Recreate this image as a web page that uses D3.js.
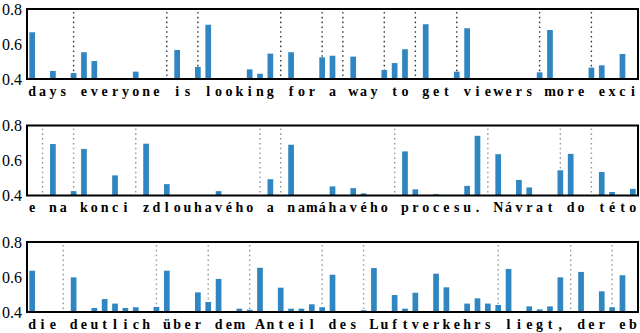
<!DOCTYPE html>
<html><head><meta charset="utf-8">
<script src="https://cdn.jsdelivr.net/npm/d3@7"></script>
<style>body{margin:0;background:#fff}svg{display:block}</style>
</head><body>
<svg id="c" width="640" height="333"></svg>
<script>
// ---- data ----
const yTicks = [0.4, 0.6, 0.8];
const text1 = "days everyone is looking for a way to get viewers more exci";
const idx1 = [0,2,4,5,6,10,14,16,17,21,22,23,25,28,29,31,34,35,36,38,41,42,49,50,54,55,57];
const val1 = [0.667,0.446,0.434,0.553,0.503,0.442,0.566,0.469,0.71,0.455,0.43,0.545,0.553,0.524,0.533,0.528,0.451,0.491,0.57,0.713,0.442,0.69,0.438,0.68,0.465,0.478,0.543];
const text2 = "e na konci zdlouhavého a namáhavého procesu. Návrat do této";
const idx2 = [2,4,5,8,11,13,18,23,25,29,31,32,36,37,39,42,43,45,47,48,51,52,55,56,58];
const val2 = [0.694,0.425,0.666,0.515,0.696,0.465,0.425,0.493,0.69,0.452,0.442,0.412,0.652,0.435,0.408,0.455,0.741,0.636,0.489,0.446,0.544,0.638,0.534,0.42,0.438];
const text3 = "die deutlich über dem Anteil des Luftverkehrs liegt, der eb";
const idx3 = [0,4,6,7,8,9,10,12,13,16,17,18,20,21,22,24,25,26,27,28,29,32,33,34,35,36,37,39,40,42,43,44,45,46,48,49,50,51,52,53,55,56,57,58];
const val3 = [0.636,0.598,0.423,0.474,0.448,0.423,0.427,0.429,0.636,0.512,0.457,0.589,0.419,0.413,0.653,0.539,0.419,0.419,0.444,0.427,0.613,0.41,0.651,0.406,0.497,0.419,0.51,0.619,0.541,0.448,0.478,0.448,0.44,0.646,0.432,0.415,0.432,0.598,0.406,0.629,0.518,0.427,0.61,0.406];

// ---- drawing ----
const FONT = '"Liberation Serif", "Times New Roman", serif';
const svg = d3.select("#c");
const left = 27, right = 638, ph = 70;
const panels = [
  {text: text1, idx: idx1, val: val1, top: 9,   dot: "#3a3a3a"},
  {text: text2, idx: idx2, val: val2, top: 125.5, dot: "#9a9a9a"},
  {text: text3, idx: idx3, val: val3, top: 242, dot: "#9a9a9a"}
];

panels.forEach(p => {
  const chars = Array.from(p.text);
  const x = d3.scaleBand().domain(d3.range(chars.length)).range([left, right])
    .paddingInner(0.45).paddingOuter(0.225);
  const y = d3.scaleLinear().domain([0.4, 0.8]).range([p.top + ph, p.top]);
  const g = svg.append("g");

  // dotted separators at spaces
  const spaces = chars.map((c, i) => c === " " ? i : -1).filter(i => i >= 0);
  g.selectAll("line.sep").data(spaces).join("line")
    .attr("x1", i => x(i) + x.bandwidth() / 2).attr("x2", i => x(i) + x.bandwidth() / 2)
    .attr("y1", y(0.8) + 3).attr("y2", y(0.4))
    .attr("stroke", p.dot).attr("stroke-width", 1.4)
    .attr("stroke-dasharray", "1.6,3.2");

  // bars
  const data = p.idx.map((k, j) => ({k, v: p.val[j]}));
  g.selectAll("rect.bar").data(data).join("rect")
    .attr("x", d => x(d.k)).attr("width", x.bandwidth())
    .attr("y", d => y(d.v)).attr("height", d => y(0.4) - y(d.v))
    .attr("fill", "#2f86c0");

  // frame
  g.append("rect").attr("x", left).attr("y", y(0.8))
    .attr("width", right - left).attr("height", y(0.4) - y(0.8))
    .attr("fill", "none").attr("stroke", "#000").attr("stroke-width", 2);

  // y axis labels
  const ax = g.append("g").attr("transform", `translate(${left},0)`)
    .call(d3.axisLeft(y).tickValues(yTicks).tickSize(0).tickPadding(5).tickFormat(d3.format(".1f")));
  ax.select(".domain").remove();
  ax.selectAll("text").style("font-family", FONT).style("font-size", "16px")
    .attr("fill", "#000").attr("dy", "0.33em");

  // character labels
  g.selectAll("text.ch").data(chars.map((c, i) => ({c, i}))).join("text")
    .attr("x", d => x(d.i) + x.bandwidth() / 2).attr("y", y(0.4) + 16.5)
    .attr("text-anchor", "middle")
    .style("font-family", FONT).style("font-size", "14px").style("font-weight", "bold")
    .attr("fill", "#000")
    .text(d => d.c);
});
</script>
</body></html>
